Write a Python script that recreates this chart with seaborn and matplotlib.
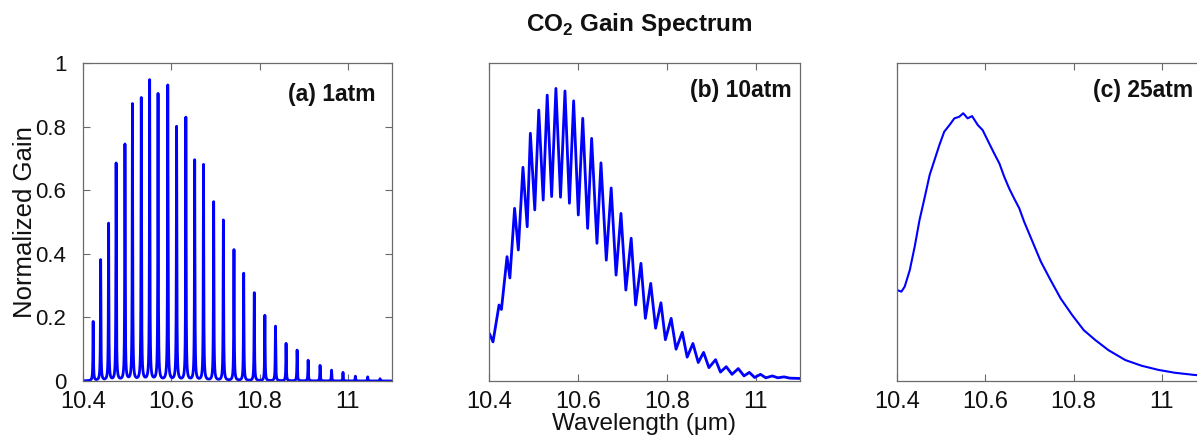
import numpy as np
import pandas as pd
import matplotlib
matplotlib.use("Agg")
import matplotlib.pyplot as plt
import seaborn as sns

# ---------------- data ----------------
# (a) 1 atm : individual rotational lines (centre wavelength, peak gain)
a_line_wl = [10.423, 10.440, 10.458, 10.475, 10.495, 10.512, 10.532, 10.551, 10.570, 10.592,
             10.612, 10.633, 10.653, 10.673, 10.696, 10.718, 10.742, 10.764, 10.788, 10.812,
             10.836, 10.860, 10.885, 10.910, 10.937, 10.963, 10.989, 11.017, 11.045, 11.073]
a_line_gain = [0.186, 0.380, 0.494, 0.683, 0.742, 0.869, 0.888, 0.944, 0.901, 0.928,
               0.798, 0.827, 0.693, 0.679, 0.562, 0.505, 0.412, 0.338, 0.277, 0.206,
               0.172, 0.118, 0.097, 0.065, 0.049, 0.034, 0.027, 0.015, 0.013, 0.007]

# (b) 10 atm : alternating peaks / troughs of the pressure-broadened spectrum
b_wl = [10.401, 10.409, 10.4226, 10.428, 10.4406, 10.447, 10.4576, 10.466, 10.4764, 10.486,
        10.4931, 10.503, 10.512, 10.522, 10.531, 10.541, 10.5506, 10.561, 10.571, 10.581,
        10.5905, 10.601, 10.611, 10.622, 10.631, 10.643, 10.652, 10.664, 10.675, 10.686,
        10.697, 10.708, 10.720, 10.730, 10.742, 10.752, 10.764, 10.775, 10.787, 10.797,
        10.810, 10.821, 10.835, 10.846, 10.859, 10.871, 10.883, 10.895, 10.910, 10.921,
        10.934, 10.947, 10.961, 10.974, 10.986, 10.998, 11.011, 11.023, 11.038, 11.050,
        11.064, 11.077, 11.100]
b_gain = [0.149, 0.123, 0.239, 0.225, 0.391, 0.324, 0.543, 0.412, 0.672, 0.485,
          0.779, 0.538, 0.852, 0.569, 0.899, 0.580, 0.920, 0.578, 0.912, 0.559,
          0.881, 0.522, 0.826, 0.480, 0.763, 0.433, 0.686, 0.380, 0.607, 0.333,
          0.527, 0.286, 0.449, 0.239, 0.370, 0.197, 0.307, 0.166, 0.246, 0.130,
          0.197, 0.100, 0.153, 0.075, 0.118, 0.058, 0.090, 0.042, 0.067, 0.028,
          0.045, 0.021, 0.039, 0.016, 0.027, 0.011, 0.021, 0.010, 0.016, 0.010,
          0.013, 0.009, 0.008]

# (c) 25 atm : smooth envelope
c_wl = [10.400, 10.410, 10.4175, 10.429, 10.440, 10.451, 10.463, 10.474, 10.485, 10.496,
        10.507, 10.519, 10.530, 10.541, 10.550, 10.560, 10.570, 10.583, 10.594, 10.605,
        10.620, 10.632, 10.643, 10.654, 10.665, 10.677, 10.688, 10.707, 10.726, 10.748,
        10.771, 10.797, 10.823, 10.849, 10.879, 10.917, 10.954, 10.992, 11.029, 11.074,
        11.100]
c_gain = [0.286, 0.281, 0.297, 0.349, 0.422, 0.506, 0.579, 0.648, 0.695, 0.742,
          0.784, 0.805, 0.826, 0.831, 0.842, 0.826, 0.833, 0.805, 0.789, 0.758,
          0.716, 0.684, 0.642, 0.606, 0.575, 0.543, 0.501, 0.438, 0.375, 0.317,
          0.259, 0.207, 0.160, 0.129, 0.097, 0.066, 0.048, 0.035, 0.026, 0.019,
          0.017]

x_ticks = [10.4, 10.6, 10.8, 11.0]
x_tick_labels = ["10.4", "10.6", "10.8", "11"]
y_ticks = [0, 0.2, 0.4, 0.6, 0.8, 1.0]
y_tick_labels = ["0", "0.2", "0.4", "0.6", "0.8", "1"]
panel_labels = ["(a) 1atm", "(b) 10atm", "(c) 25atm"]

# ---------------- styling ----------------
sns.set_style("ticks")
plt.rcParams["font.family"] = ["Liberation Sans", "DejaVu Sans"]
plt.rcParams["mathtext.fontset"] = "custom"
plt.rcParams["mathtext.rm"] = "Liberation Sans"
plt.rcParams["mathtext.bf"] = "Liberation Sans:bold"

BLUE = "#0000ff"
SPINE = "#6a6a6a"
TXT = "#111111"

W, H = 1197, 436
fig = plt.figure(figsize=(W / 100, H / 100), dpi=100)
bottom, height = 55 / H, 318 / H
ax_a = fig.add_axes([83 / W, bottom, 309 / W, height])
ax_b = fig.add_axes([489 / W, bottom, 311 / W, height])
ax_c = fig.add_axes([897 / W, bottom, 309 / W, height])

# panel (a): render each line as a narrow profile (plus weak pedestal) around its read centre
grid = np.linspace(10.4, 11.1, 28001)
spec = np.zeros_like(grid)
g_narrow, g_wide, ped = 0.0006, 0.0022, 0.035
for c0, h0 in zip(a_line_wl, a_line_gain):
    d2 = (grid - c0) ** 2
    spec += (1 - ped) * h0 * g_narrow ** 2 / (d2 + g_narrow ** 2)
    spec += ped * h0 * g_wide ** 2 / (d2 + g_wide ** 2)
df_a = pd.DataFrame({"wl": grid, "gain": spec})
df_b = pd.DataFrame({"wl": b_wl, "gain": b_gain})
df_c = pd.DataFrame({"wl": c_wl, "gain": c_gain})

sns.lineplot(data=df_a, x="wl", y="gain", ax=ax_a, color=BLUE, lw=2.0,
             estimator=None, sort=False, legend=False)
sns.lineplot(data=df_b, x="wl", y="gain", ax=ax_b, color=BLUE, lw=2.0,
             estimator=None, sort=False, legend=False)
sns.lineplot(data=df_c, x="wl", y="gain", ax=ax_c, color=BLUE, lw=1.5,
             estimator=None, sort=False, legend=False)

label_pos = [(0.948, 0.937), (0.972, 0.95), (0.958, 0.95)]
for ax, lab, (lx, ly) in zip([ax_a, ax_b, ax_c], panel_labels, label_pos):
    ax.set_xlim(10.4, 11.1)
    ax.set_ylim(0, 1)
    ax.set_xticks(x_ticks)
    ax.set_xticklabels(x_tick_labels)
    ax.set_xlabel("")
    ax.set_ylabel("")
    for s in ax.spines.values():
        s.set_visible(True)
        s.set_color(SPINE)
        s.set_linewidth(0.9)
    ax.tick_params(axis="x", direction="in", top=True, bottom=True, length=5,
                   width=0.8, color=SPINE, labelsize=17, pad=7.5, labelcolor=TXT)
    ax.text(lx, ly, lab, transform=ax.transAxes, ha="right", va="top",
            fontsize=16.5, fontweight="bold", color=TXT)

ax_a.set_yticks(y_ticks)
ax_a.set_yticklabels(y_tick_labels)
ax_a.tick_params(axis="y", direction="in", left=True, right=True, length=5,
                 width=0.8, color=SPINE, labelsize=16, pad=12, labelcolor=TXT)
ax_a.set_ylabel("Normalized Gain", fontsize=18.5, color=TXT)
ax_a.yaxis.set_label_coords(-0.15, 0.5)

for ax in (ax_b, ax_c):
    ax.set_yticks([])

ax_b.set_xlabel("Wavelength (\u03bcm)", fontsize=17.5, color=TXT)
ax_b.xaxis.set_label_coords(0.5, -0.1)

fig.text(0.534, 0.975, r"CO$_\mathbf{2}$ Gain Spectrum", ha="center", va="top",
         fontsize=17.5, fontweight="bold", color=TXT)

fig.savefig("out.png", dpi=100)
